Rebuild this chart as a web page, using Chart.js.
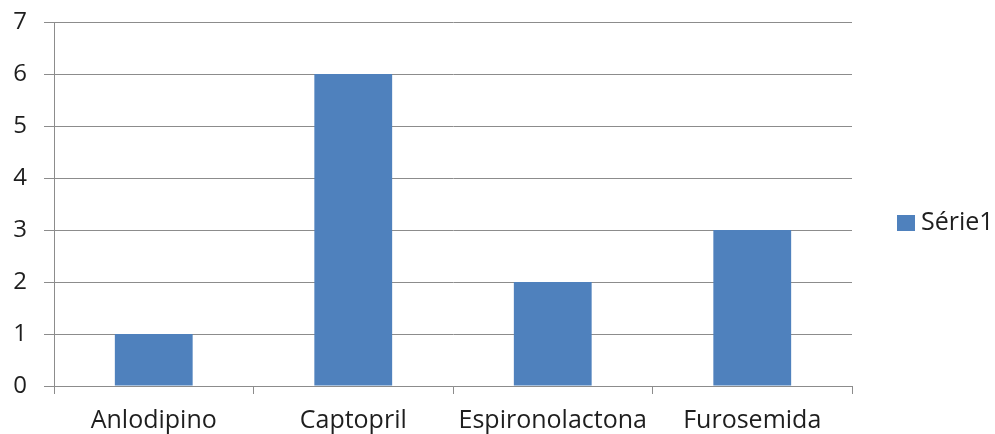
<!DOCTYPE html>
<html>
<head>
<meta charset="utf-8">
<script src="https://cdn.jsdelivr.net/npm/chart.js@4.4.0/dist/chart.umd.min.js"></script>
<style>
  html, body { margin: 0; padding: 0; background: #fff; }
  #wrap { width: 995px; height: 434px; }
</style>
</head>
<body>
<div id="wrap"><canvas id="medChart" width="995" height="434"></canvas></div>
<script>
// medicamentos e quantidades
const categorias = ['Anlodipino', 'Captopril', 'Espironolactona', 'Furosemida'];
const serie1 = [1, 6, 2, 3];
const nomeSerie = 'Série1';
const corSerie = '#4f81bd';
const corGrade = '#8c8c8c';
const fonte = "'Open Sans', 'DejaVu Sans', sans-serif";

// legenda desenhada à direita, ao lado da área do gráfico
const legendaDireita = {
    id: 'legendaDireita',
    afterDraw(chart) {
        const ctx = chart.ctx;
        const ds = chart.data.datasets[0];
        const x = 897, y = 223;
        ctx.save();
        ctx.fillStyle = ds.backgroundColor;
        ctx.fillRect(x, y - 8, 18, 16);
        ctx.fillStyle = '#1e1e1e';
        ctx.font = '25px ' + fonte;
        ctx.textBaseline = 'middle';
        ctx.fillText(ds.label, x + 24, y);
        ctx.restore();
    }
};

const ctx = document.getElementById('medChart').getContext('2d');
new Chart(ctx, {
    type: 'bar',
    data: {
        labels: categorias,
        datasets: [{
            label: nomeSerie,
            data: serie1,
            backgroundColor: corSerie,
            categoryPercentage: 1,
            barPercentage: 0.39
        }]
    },
    options: {
        responsive: false,
        animation: false,
        layout: { padding: { left: 13, right: 143, top: 0, bottom: 0 } },
        plugins: {
            legend: { display: false },
            tooltip: { enabled: false }
        },
        scales: {
            x: {
                afterFit(scale) { scale.height = 48; },
                grid: {
                    offset: true,
                    drawOnChartArea: false,
                    color: corGrade,
                    tickLength: 8
                },
                border: { color: corGrade },
                ticks: {
                    color: '#1e1e1e',
                    padding: 12,
                    font: { family: fonte, size: 25 }
                }
            },
            y: {
                min: 0,
                max: 7,
                afterFit(scale) {
                    scale.width = 41;
                    scale.paddingTop = 22;
                    scale.paddingBottom = 0;
                },
                grid: { color: corGrade, tickLength: 10 },
                border: { color: corGrade },
                ticks: {
                    stepSize: 1,
                    color: '#1e1e1e',
                    padding: 17,
                    font: { family: fonte, size: 24, lineHeight: 1 }
                }
            }
        }
    },
    plugins: [legendaDireita]
});
</script>
</body>
</html>
